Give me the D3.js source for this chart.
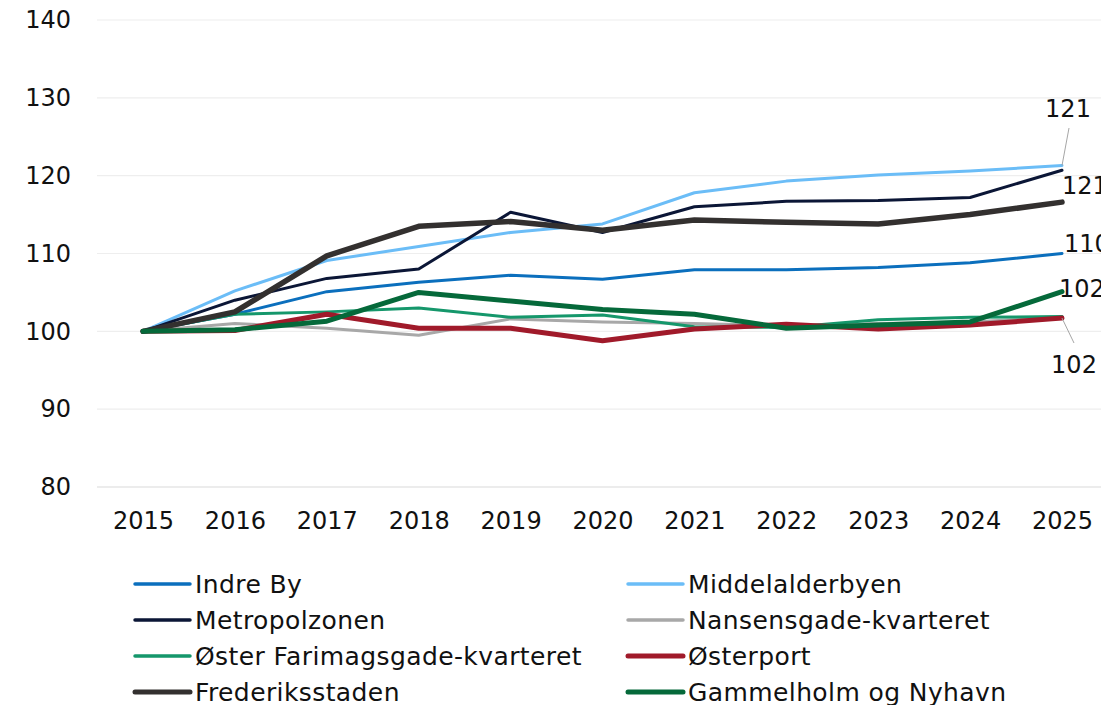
<!DOCTYPE html>
<html>
<head>
<meta charset="utf-8">
<script src="https://cdn.jsdelivr.net/npm/d3@7"></script>
<style>
  body { margin: 0; background: #fff; }
  svg { font-family: "DejaVu Sans", sans-serif; }
</style>
</head>
<body>
<div id="chart"></div>
<script>
// years on the x axis
const years = [2015, 2016, 2017, 2018, 2019, 2020, 2021, 2022, 2023, 2024, 2025];
const yTicks = [80, 90, 100, 110, 120, 130, 140];

// index values (2015 = 100)
const indreBy          = [100, 102.2, 105.1, 106.3, 107.2, 106.7, 107.9, 107.9, 108.2, 108.8, 110.0];
const middelalderbyen  = [100, 105.2, 109.1, 110.9, 112.7, 113.8, 117.8, 119.3, 120.1, 120.6, 121.3];
const metropolzonen    = [100, 104.0, 106.8, 108.0, 115.3, 112.7, 116.0, 116.7, 116.8, 117.2, 120.7];
const nansensgade      = [100, 101.0, 100.4, 99.5, 101.6, 101.2, 101.0, 100.7, 101.0, 101.2, 101.8];
const osterFarimag     = [100, 102.2, 102.5, 103.0, 101.8, 102.1, 100.6, 100.5, 101.5, 101.8, 101.9];
const osterport        = [100, 100.1, 102.2, 100.4, 100.4, 98.8, 100.3, 100.9, 100.3, 100.8, 101.7];
const frederiksstaden  = [100, 102.5, 109.7, 113.5, 114.1, 113.0, 114.3, 114.0, 113.8, 115.0, 116.6];
const gammelholm       = [100, 100.2, 101.3, 105.0, 103.9, 102.8, 102.2, 100.4, 100.8, 101.2, 105.1];

const seriesNames = ["Indre By", "Middelalderbyen", "Metropolzonen", "Nansensgade-kvarteret",
                     "Øster Farimagsgade-kvarteret", "Østerport", "Frederiksstaden", "Gammelholm og Nyhavn"];
const seriesValues = [indreBy, middelalderbyen, metropolzonen, nansensgade,
                      osterFarimag, osterport, frederiksstaden, gammelholm];
const seriesColors = ["#0b6fbd", "#6bbdf7", "#0b1636", "#a8a8a8",
                      "#15976b", "#a01a2a", "#33302f", "#05693a"];
const seriesWidths = [3, 3, 3, 3, 3, 5, 5.5, 5];

const width = 1101, height = 705;
const margin = { top: 20, left: 97, bottom: 218 };
const fontSize = 24;

const svg = d3.select("#chart").append("svg")
    .attr("width", width)
    .attr("height", height);

const x = d3.scalePoint()
    .domain(years)
    .range([143, 1062]);

const y = d3.scaleLinear()
    .domain([80, 140])
    .range([height - margin.bottom, margin.top]);

// gridlines
svg.append("g")
    .selectAll("line")
    .data(yTicks)
    .join("line")
    .attr("x1", margin.left)
    .attr("x2", width)
    .attr("y1", d => y(d))
    .attr("y2", d => y(d))
    .attr("stroke", d => d === 80 ? "#d9d9d9" : "#eeeeee")
    .attr("stroke-width", 1.2);

// y axis labels
const yAxis = svg.append("g")
    .attr("transform", `translate(71,0)`)
    .call(d3.axisLeft(y).tickValues(yTicks).tickSize(0).tickPadding(0));
yAxis.select(".domain").remove();
yAxis.selectAll("text")
    .attr("font-size", fontSize)
    .attr("font-family", "'DejaVu Sans', sans-serif")
    .attr("fill", "#111");

// x axis labels
const xAxis = svg.append("g")
    .attr("transform", `translate(0,${y(80)})`)
    .call(d3.axisBottom(x).tickSize(0).tickPadding(25));
xAxis.select(".domain").remove();
xAxis.selectAll("text")
    .attr("font-size", fontSize)
    .attr("font-family", "'DejaVu Sans', sans-serif")
    .attr("fill", "#111");

// lines
const line = d3.line()
    .x((d, i) => x(years[i]))
    .y(d => y(d));

svg.append("g")
    .selectAll("path")
    .data(seriesValues)
    .join("path")
    .attr("d", d => line(d))
    .attr("fill", "none")
    .attr("stroke", (d, i) => seriesColors[i])
    .attr("stroke-width", (d, i) => seriesWidths[i])
    .attr("stroke-linejoin", "round")
    .attr("stroke-linecap", "round");

// end labels
const last = years.length - 1;
function endLabel(values, text, tx, ty, anchor, leader) {
    const px = x(years[last]), py = y(values[last]);
    if (leader) {
        svg.append("line")
            .attr("x1", px).attr("y1", py)
            .attr("x2", leader[0]).attr("y2", leader[1])
            .attr("stroke", "#a6a6a6")
            .attr("stroke-width", 1);
    }
    svg.append("text")
        .attr("x", tx).attr("y", ty)
        .attr("text-anchor", anchor)
        .attr("dominant-baseline", "central")
        .attr("font-size", fontSize)
        .attr("fill", "#111")
        .text(text);
}
endLabel(middelalderbyen, "121", 1068, 109, "middle", [1069, 128]);
endLabel(metropolzonen, "121", 1062, 186, "start");
endLabel(indreBy, "110", 1064, 244, "start");
endLabel(gammelholm, "102", 1059, 289, "start");
endLabel(osterport, "102", 1074, 365, "middle", [1074, 343]);

// legend, two columns
const legend = svg.append("g");
const items = legend.selectAll("g")
    .data(seriesNames)
    .join("g")
    .attr("transform", (d, i) => `translate(${i % 2 === 0 ? 135 : 628},${584 + Math.floor(i / 2) * 36})`);

items.append("line")
    .attr("x1", 0).attr("x2", 55)
    .attr("stroke", (d, i) => seriesColors[i])
    .attr("stroke-width", (d, i) => seriesWidths[i] > 4 ? 5 : 3.5)
    .attr("stroke-linecap", "round");

items.append("text")
    .attr("x", 60)
    .attr("dominant-baseline", "central")
    .attr("font-size", 25)
    .attr("letter-spacing", 0.4)
    .attr("fill", "#111")
    .text(d => d);
</script>
</body>
</html>
